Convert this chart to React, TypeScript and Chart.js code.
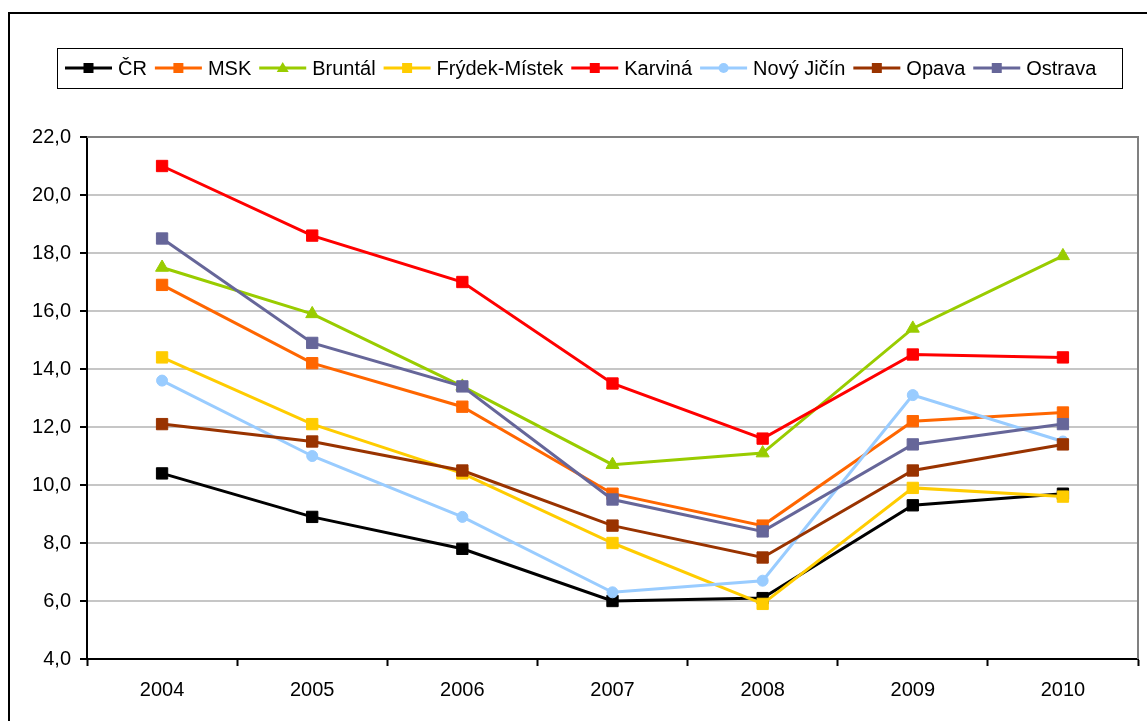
import React, { useEffect, useRef } from "react";
import { Chart, registerables } from "chart.js";

Chart.register(...registerables);

const years = ["2004", "2005", "2006", "2007", "2008", "2009", "2010"];
const seriesNames = ["ČR", "MSK", "Bruntál", "Frýdek-Místek", "Karviná", "Nový Jičín", "Opava", "Ostrava"];
const crValues = [10.4, 8.9, 7.8, 6.0, 6.1, 9.3, 9.7];
const mskValues = [16.9, 14.2, 12.7, 9.7, 8.6, 12.2, 12.5];
const bruntalValues = [17.5, 15.9, 13.4, 10.7, 11.1, 15.4, 17.9];
const frydekValues = [14.4, 12.1, 10.4, 8.0, 5.9, 9.9, 9.6];
const karvinaValues = [21.0, 18.6, 17.0, 13.5, 11.6, 14.5, 14.4];
const novyJicinValues = [13.6, 11.0, 8.9, 6.3, 6.7, 13.1, 11.5];
const opavaValues = [12.1, 11.5, 10.5, 8.6, 7.5, 10.5, 11.4];
const ostravaValues = [18.5, 14.9, 13.4, 9.5, 8.4, 11.4, 12.1];
const yTicksMin = 4;
const yTicksMax = 22;
const yTickStep = 2;

const seriesValues = [crValues, mskValues, bruntalValues, frydekValues, karvinaValues, novyJicinValues, opavaValues, ostravaValues];
const seriesColors = ["#000000", "#FF6600", "#99CC00", "#FFCC00", "#FF0000", "#99CCFF", "#993300", "#666699"];
const seriesMarkers = ["rect", "rect", "triangle", "rect", "rect", "circle", "rect", "rect"];

const FONT = '"Liberation Sans", Arial, sans-serif';

function markerRadius(style: string) {
  if (style === "triangle") return 7.5;
  if (style === "circle") return 5.5;
  return 8;
}

function drawLegendMarker(ctx: CanvasRenderingContext2D, style: string, x: number, y: number, color: string) {
  ctx.fillStyle = color;
  ctx.beginPath();
  if (style === "rect") {
    ctx.rect(x - 5, y - 5, 10, 10);
  } else if (style === "triangle") {
    ctx.moveTo(x, y - 6);
    ctx.lineTo(x + 6, y + 4);
    ctx.lineTo(x - 6, y + 4);
    ctx.closePath();
  } else {
    ctx.arc(x, y, 5, 0, Math.PI * 2);
  }
  ctx.fill();
}

const decorPlugin = {
  id: "decor",
  beforeDraw(chart: any) {
    const ctx = chart.ctx as CanvasRenderingContext2D;
    ctx.save();
    ctx.fillStyle = "#ffffff";
    ctx.fillRect(0, 0, chart.width, chart.height);
    // outer frame
    ctx.strokeStyle = "#000000";
    ctx.lineWidth = 2;
    ctx.beginPath();
    ctx.moveTo(9, chart.height + 5);
    ctx.lineTo(9, 13);
    ctx.lineTo(chart.width + 5, 13);
    ctx.stroke();
    ctx.restore();
  },
  beforeDatasetsDraw(chart: any) {
    const ctx = chart.ctx as CanvasRenderingContext2D;
    const a = chart.chartArea;
    ctx.save();
    ctx.strokeStyle = "#808080";
    ctx.lineWidth = 2;
    ctx.beginPath();
    ctx.moveTo(a.left, a.top);
    ctx.lineTo(a.right, a.top);
    ctx.lineTo(a.right, a.bottom);
    ctx.stroke();
    ctx.restore();
  },
  afterDraw(chart: any) {
    const ctx = chart.ctx as CanvasRenderingContext2D;
    ctx.save();
    // legend box
    ctx.strokeStyle = "#000000";
    ctx.lineWidth = 1;
    ctx.strokeRect(57.5, 48.5, 1065, 40);
    ctx.font = `20px ${FONT}`;
    ctx.textBaseline = "middle";
    ctx.textAlign = "left";
    const cy = 68;
    let x = 65;
    seriesNames.forEach((name, i) => {
      const color = seriesColors[i];
      ctx.strokeStyle = color;
      ctx.lineWidth = 3;
      ctx.beginPath();
      ctx.moveTo(x, cy);
      ctx.lineTo(x + 47, cy);
      ctx.stroke();
      drawLegendMarker(ctx, seriesMarkers[i], x + 23.5, cy, color);
      ctx.fillStyle = "#000000";
      ctx.fillText(name, x + 53, cy + 1);
      x += 53 + ctx.measureText(name).width + 8;
    });
    ctx.restore();
  },
};

export default function App() {
  const canvasRef = useRef<HTMLCanvasElement | null>(null);

  useEffect(() => {
    if (!canvasRef.current) return;
    const n = seriesNames.length;
    const chart = new Chart(canvasRef.current, {
      type: "line",
      data: {
        labels: years,
        datasets: seriesNames.map((name, i) => ({
          label: name,
          data: seriesValues[i],
          borderColor: seriesColors[i],
          backgroundColor: seriesColors[i],
          borderWidth: 3,
          pointStyle: seriesMarkers[i] as any,
          pointRadius: markerRadius(seriesMarkers[i]),
          pointBorderWidth: 1,
          pointBorderColor: seriesColors[i],
          pointBackgroundColor: seriesColors[i],
          tension: 0,
          fill: false,
          order: n - i,
        })),
      },
      options: {
        responsive: false,
        animation: false,
        events: [],
        layout: { padding: { top: 137, right: 5, left: 0, bottom: 0 } },
        plugins: {
          legend: { display: false },
          tooltip: { enabled: false },
          title: { display: false },
        },
        scales: {
          x: {
            type: "category",
            offset: true,
            grid: {
              offset: true,
              drawOnChartArea: false,
              drawTicks: true,
              tickLength: 7,
              tickColor: "#000000",
              tickWidth: 2,
            },
            border: { color: "#000000", width: 2 },
            ticks: {
              color: "#000000",
              font: { family: FONT, size: 20 },
              padding: 12,
              maxRotation: 0,
              autoSkip: false,
            },
            afterFit: (scale: any) => {
              scale.height = 62;
            },
          },
          y: {
            min: yTicksMin,
            max: yTicksMax,
            grid: {
              color: "#c6c6c6",
              lineWidth: 2,
              drawTicks: true,
              tickLength: 7,
              tickColor: "#000000",
              tickWidth: 2,
            },
            border: { color: "#000000", width: 2 },
            ticks: {
              stepSize: yTickStep,
              color: "#000000",
              font: { family: FONT, size: 20 },
              padding: 9,
              callback: (v: any) => Number(v).toFixed(1).replace(".", ","),
            },
            afterFit: (scale: any) => {
              scale.width = 87;
            },
          },
        },
      },
      plugins: [decorPlugin],
    });
    return () => chart.destroy();
  }, []);

  return (
    <div style={{ position: "fixed", left: 0, top: 0, width: 1147, height: 721, background: "#fff", overflow: "hidden" }}>
      <canvas ref={canvasRef} width={1147} height={721} style={{ display: "block" }} />
    </div>
  );
}
